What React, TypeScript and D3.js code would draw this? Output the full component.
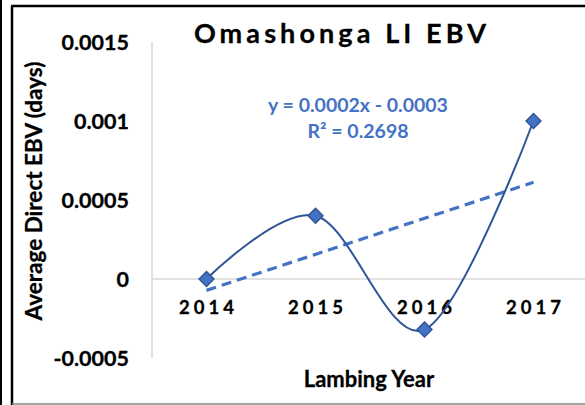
import React from 'react';
import * as d3 from 'd3';

const years = ['2014', '2015', '2016', '2017'];
const ebv = [0, 0.0004, -0.00032, 0.001];
const yTicks = [-0.0005, 0, 0.0005, 0.001, 0.0015];

const W = 585;
const H = 405;
const FONT = 'Lato, "Liberation Sans", sans-serif';

export default function App() {
  const x = d3.scaleBand().domain(years).range([152, 588]);
  const y = d3.scaleLinear().domain([-0.0005, 0.0015]).range([358, 42]);
  const cx = (yr: string) => (x(yr) as number) + x.bandwidth() / 2;

  // linear trend (x = 1..n like Excel)
  const idx = ebv.map((_, i) => i + 1);
  const mx = d3.mean(idx) as number;
  const my = d3.mean(ebv) as number;
  const slope =
    d3.sum(idx, (v, i) => (v - mx) * (ebv[i] - my)) / d3.sum(idx, (v) => (v - mx) ** 2);
  const icpt = my - slope * mx;

  const line = d3
    .line<number>()
    .x((_, i) => cx(years[i]))
    .y((d) => y(d))
    .curve(d3.curveCardinal.tension(0));

  const trend = [icpt + slope * 1, icpt + slope * years.length];
  const diamond = d3.symbol(d3.symbolDiamond2, 140)();

  return (
    <div style={{ position: 'absolute', left: 0, top: 0 }}>
      <svg width={W} height={H} style={{ display: 'block', background: '#fff' }}>
        {/* frame */}
        <line x1={1} x2={1} y1={0} y2={H} stroke="#000" strokeWidth={2} />
        <line x1={12} x2={12} y1={6} y2={H} stroke="#000" strokeWidth={2.5} />
        <line x1={11} x2={W} y1={6} y2={6} stroke="#000" strokeWidth={2.5} />
        <line x1={12} x2={W} y1={404} y2={404} stroke="#888" strokeWidth={1.5} />

        {/* axes */}
        <line x1={152} x2={152} y1={y(0.0015)} y2={y(-0.0005)} stroke="#d9d9d9" strokeWidth={1.5} />
        <line x1={152} x2={588} y1={y(0)} y2={y(0)} stroke="#d9d9d9" strokeWidth={1.5} />

        {yTicks.map((t) => (
          <text
            key={t}
            x={129}
            y={y(t)}
            dy="0.36em"
            textAnchor="end"
            fontFamily={FONT}
            fontWeight="bold"
            fontSize={21.5}
            stroke="#000"
            strokeWidth={0.3}
            fill="#000"
          >
            {t === 0 ? '0' : String(t)}
          </text>
        ))}

        {years.map((yr) => (
          <text
            key={yr}
            x={cx(yr) + 2}
            y={314}
            textAnchor="middle"
            fontFamily={FONT}
            fontWeight="bold"
            fontSize={18.5}
            letterSpacing={4}
            stroke="#000"
            strokeWidth={0.3}
            fill="#000"
          >
            {yr}
          </text>
        ))}

        {/* trendline */}
        <line
          x1={cx(years[0])}
          x2={cx(years[years.length - 1])}
          y1={y(trend[0])}
          y2={y(trend[1])}
          stroke="#4472C4"
          strokeWidth={3.2}
          strokeDasharray="10 6"
        />

        <path d={line(ebv) as string} fill="none" stroke="#2F5597" strokeWidth={2} />
        {ebv.map((v, i) => (
          <path
            key={i}
            d={diamond as string}
            transform={`translate(${cx(years[i])},${y(v)})`}
            fill="#4472C4"
            stroke="#2F5597"
            strokeWidth={1.5}
          />
        ))}

        <text x={342} y={43} textAnchor="middle" fontFamily={FONT} fontWeight="bold" fontSize={27} letterSpacing={4.1} stroke="#000" strokeWidth={0.3} fill="#000">
          Omashonga LI EBV
        </text>

        <text x={358} y={112} textAnchor="middle" fontFamily={FONT} fontWeight="bold" fontSize={19.5} fill="#4472C4">
          y = 0.0002x - 0.0003
        </text>
        <text x={358} y={138} textAnchor="middle" fontFamily={FONT} fontWeight="bold" fontSize={19.5} fill="#4472C4">
          R² = 0.2698
        </text>

        <text
          transform="translate(42,191) rotate(-90)"
          textAnchor="middle"
          fontFamily={FONT}
          fontWeight="bold"
          fontSize={22.5}
          stroke="#000"
          strokeWidth={0.3}
          fill="#000"
        >
          Average Direct EBV (days)
        </text>
        <text x={369} y={387} textAnchor="middle" fontFamily={FONT} fontWeight="bold" fontSize={22} stroke="#000" strokeWidth={0.3} fill="#000">
          Lambing Year
        </text>
      </svg>
    </div>
  );
}
